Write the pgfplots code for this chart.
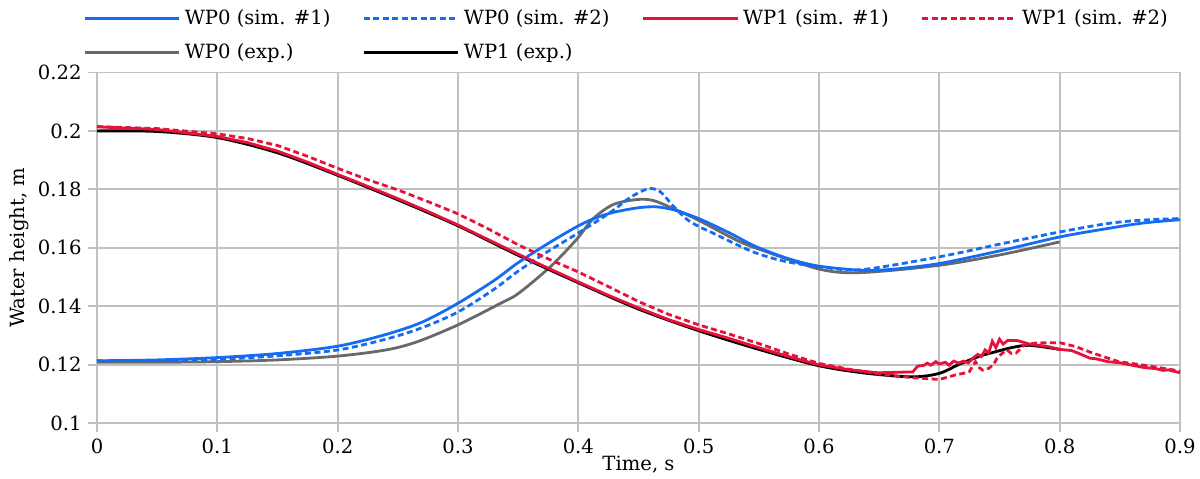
\documentclass[border=0pt]{standalone}
\usepackage{fontspec}
\setmainfont{DejaVu Serif}
\usepackage{pgfplots}
\pgfplotsset{compat=1.18}
\definecolor{cblue}{RGB}{20,108,245}
\definecolor{cred}{RGB}{230,18,60}
\definecolor{cgray}{RGB}{105,105,105}
\definecolor{cgrid}{RGB}{192,192,192}
\begin{document}
\fontsize{14.7pt}{17pt}\selectfont
\begin{tikzpicture}
\begin{axis}[
  name=ax,
  scale only axis,
  width=812.25pt, height=262.875pt,
  xmin=0, xmax=0.9, ymin=0.1, ymax=0.22,
  xtick={0,0.1,0.2,0.3,0.4,0.5,0.6,0.7,0.8,0.9},
  xticklabels={0,0.1,0.2,0.3,0.4,0.5,0.6,0.7,0.8,0.9},
  ytick={0.1,0.12,0.14,0.16,0.18,0.2,0.22},
  yticklabels={0.1,0.12,0.14,0.16,0.18,0.2,0.22},
  /pgf/number format/assume math mode=true,
  grid=major,
  grid style={color=cgrid, line width=1.4pt},
  axis line style={color=cgrid, line width=1.4pt},
  tick style={color=cgrid, line width=1.4pt},
  tick align=outside, tick pos=left,
  major tick length=6.5pt,
  xlabel={Time, s},
  ylabel={Water height, m},
  xlabel style={at={(axis description cs:0.5,-0.12)}, anchor=center},
  ylabel style={at={(axis description cs:-0.072,0.5)}, anchor=center},
  legend columns=4,
  legend cell align=left,
  legend style={draw=none, fill=none,
    at={(axis description cs:-0.0166,1.196)}, anchor=north west,
    nodes={inner sep=2pt},
    row sep=8.5pt,
    /tikz/every odd column/.append style={column sep=1pt},
    /tikz/every even column/.append style={column sep=22pt}},
  legend image code/.code={\draw[#1] (0pt,0pt) -- (71pt,0pt);},
  every axis plot/.append style={line width=2.1pt},
]
\addlegendimage{cblue, line width=2.1pt}
\addlegendentry{WP0 (sim. \#1)}
\addlegendimage{cblue, line width=2.1pt, dash pattern=on 4.5pt off 2.6pt}
\addlegendentry{WP0 (sim. \#2)}
\addlegendimage{cred, line width=2.1pt}
\addlegendentry{WP1 (sim. \#1)}
\addlegendimage{cred, line width=2.1pt, dash pattern=on 4.5pt off 2.6pt}
\addlegendentry{WP1 (sim. \#2)}
\addlegendimage{cgray, line width=2.1pt}
\addlegendentry{WP0 (exp.)}
\addlegendimage{black, line width=2.1pt}
\addlegendentry{WP1 (exp.)}

% WP0 (exp.)
\addplot[cgray, smooth, forget plot] coordinates {
(0,0.1208) (0.05,0.1208) (0.1,0.1210) (0.15,0.1216) (0.2,0.1229) (0.24,0.1250)
(0.266,0.1278) (0.3,0.1336) (0.335,0.1409) (0.35,0.1443) (0.3765,0.1534)
(0.398,0.1626) (0.4125,0.1700) (0.429,0.1748) (0.4485,0.1765) (0.462,0.1762)
(0.479,0.1734) (0.5,0.1694) (0.529,0.1631) (0.547,0.1600) (0.6,0.1527)
(0.635,0.1515) (0.7,0.1540) (0.752,0.1577) (0.8,0.1620)
};
% WP1 (exp.)
\addplot[black, smooth, forget plot] coordinates {
(0,0.2000) (0.05,0.1998) (0.1,0.1977) (0.15,0.1925) (0.2,0.1848) (0.25,0.1764)
(0.3,0.1675) (0.35,0.1574) (0.4,0.1480) (0.45,0.1390) (0.5,0.1316) (0.55,0.1252)
(0.6,0.1196) (0.64,0.1170) (0.678,0.1158) (0.7,0.1170) (0.716,0.1200)
(0.733,0.1228) (0.745,0.1242) (0.76,0.1258) (0.775,0.1266) (0.8,0.1252)
};
% WP0 (sim. #1)
\addplot[cblue, smooth, forget plot] coordinates {
(0,0.1213) (0.05,0.1216) (0.1,0.1224) (0.15,0.1238) (0.2,0.1263) (0.24,0.1303)
(0.27,0.1345) (0.3,0.1410) (0.33,0.1488) (0.35,0.1549) (0.375,0.1615)
(0.4,0.1675) (0.415,0.1703) (0.43,0.1722) (0.45,0.1737) (0.465,0.1740)
(0.48,0.1729) (0.5,0.1700) (0.525,0.1652) (0.547,0.1605) (0.575,0.1562)
(0.6,0.1537) (0.635,0.1523) (0.66,0.1526) (0.7,0.1546) (0.752,0.1591)
(0.8,0.1637) (0.84,0.1666) (0.87,0.1685) (0.9,0.1696)
};
% WP0 (sim. #2)
\addplot[cblue, smooth, dash pattern=on 4.5pt off 2.6pt, forget plot] coordinates {
(0,0.1213) (0.05,0.1214) (0.1,0.1218) (0.15,0.1230) (0.2,0.1250) (0.24,0.1287)
(0.27,0.1326) (0.3,0.1380) (0.33,0.1458) (0.35,0.1520) (0.375,0.1588)
(0.393,0.1633) (0.4125,0.1683) (0.429,0.1728) (0.443,0.1772) (0.458,0.1802)
(0.468,0.1792) (0.479,0.1742) (0.49,0.1698) (0.5,0.1673) (0.512,0.1650)
(0.53,0.1614) (0.547,0.1583) (0.57,0.1555) (0.6,0.1535) (0.635,0.1525)
(0.7,0.1569) (0.752,0.1614) (0.8,0.1654) (0.84,0.1683) (0.87,0.1695) (0.9,0.1700)
};
% WP1 (sim. #1)
\addplot[cred, forget plot] coordinates {
(0,0.2014) (0.05,0.2005) (0.1,0.1981) (0.125,0.1960) (0.15,0.1931) (0.175,0.1893)
(0.2,0.1851) (0.225,0.1810) (0.25,0.1768) (0.275,0.1724) (0.3,0.1678)
(0.325,0.1628) (0.35,0.1578) (0.375,0.1530) (0.4,0.1483) (0.425,0.1437)
(0.45,0.1394) (0.475,0.1354) (0.5,0.1320) (0.525,0.1290) (0.55,0.1258)
(0.575,0.1227) (0.6,0.1199) (0.625,0.1182) (0.649,0.1172) (0.678,0.1175)
(0.682,0.1195) (0.687,0.1197) (0.690,0.1205) (0.693,0.1198) (0.697,0.1210)
(0.700,0.1202) (0.705,0.1208) (0.708,0.1198) (0.712,0.1212) (0.716,0.1205)
(0.720,0.1212) (0.724,0.1206) (0.728,0.1222) (0.732,0.1235) (0.735,0.1228)
(0.738,0.1250) (0.741,0.1240) (0.744,0.1280) (0.747,0.1258) (0.750,0.1287)
(0.753,0.1270) (0.757,0.1283) (0.765,0.1282) (0.775,0.1270) (0.79,0.1262)
(0.8,0.1252) (0.81,0.1248) (0.816,0.1238) (0.825,0.1222) (0.83,0.1220)
(0.84,0.1210) (0.85,0.1206) (0.86,0.1198) (0.87,0.1190) (0.88,0.1186)
(0.886,0.1180) (0.89,0.1182) (0.9,0.1172)
};
% WP1 (sim. #2)
\addplot[cred, dash pattern=on 4.5pt off 2.6pt, forget plot] coordinates {
(0,0.2015) (0.05,0.2008) (0.1,0.1990) (0.125,0.1974) (0.15,0.1950) (0.175,0.1913)
(0.2,0.1872) (0.225,0.1833) (0.25,0.1798) (0.275,0.1758) (0.3,0.1716)
(0.325,0.1665) (0.35,0.1610) (0.375,0.1562) (0.4,0.1517) (0.425,0.1467)
(0.45,0.1416) (0.475,0.1372) (0.5,0.1336) (0.525,0.1305) (0.55,0.1272)
(0.575,0.1236) (0.6,0.1204) (0.625,0.1184) (0.65,0.1168) (0.678,0.1155)
(0.7,0.1149) (0.713,0.1164) (0.722,0.1172) (0.725,0.1176) (0.728,0.1198)
(0.730,0.1210) (0.733,0.1190) (0.736,0.1181) (0.741,0.1187) (0.745,0.1200)
(0.748,0.1222) (0.752,0.1238) (0.756,0.1250) (0.760,0.1238) (0.764,0.1240)
(0.770,0.1266) (0.78,0.1274) (0.8,0.1275) (0.813,0.1262) (0.827,0.1240)
(0.849,0.1210) (0.87,0.1198) (0.9,0.1178)
};
\end{axis}
\pgfresetboundingbox
\path ([xshift=-72.75pt,yshift=-41.25pt]ax.south west) rectangle ([xshift=15pt,yshift=54.375pt]ax.north east);
\end{tikzpicture}
\end{document}
